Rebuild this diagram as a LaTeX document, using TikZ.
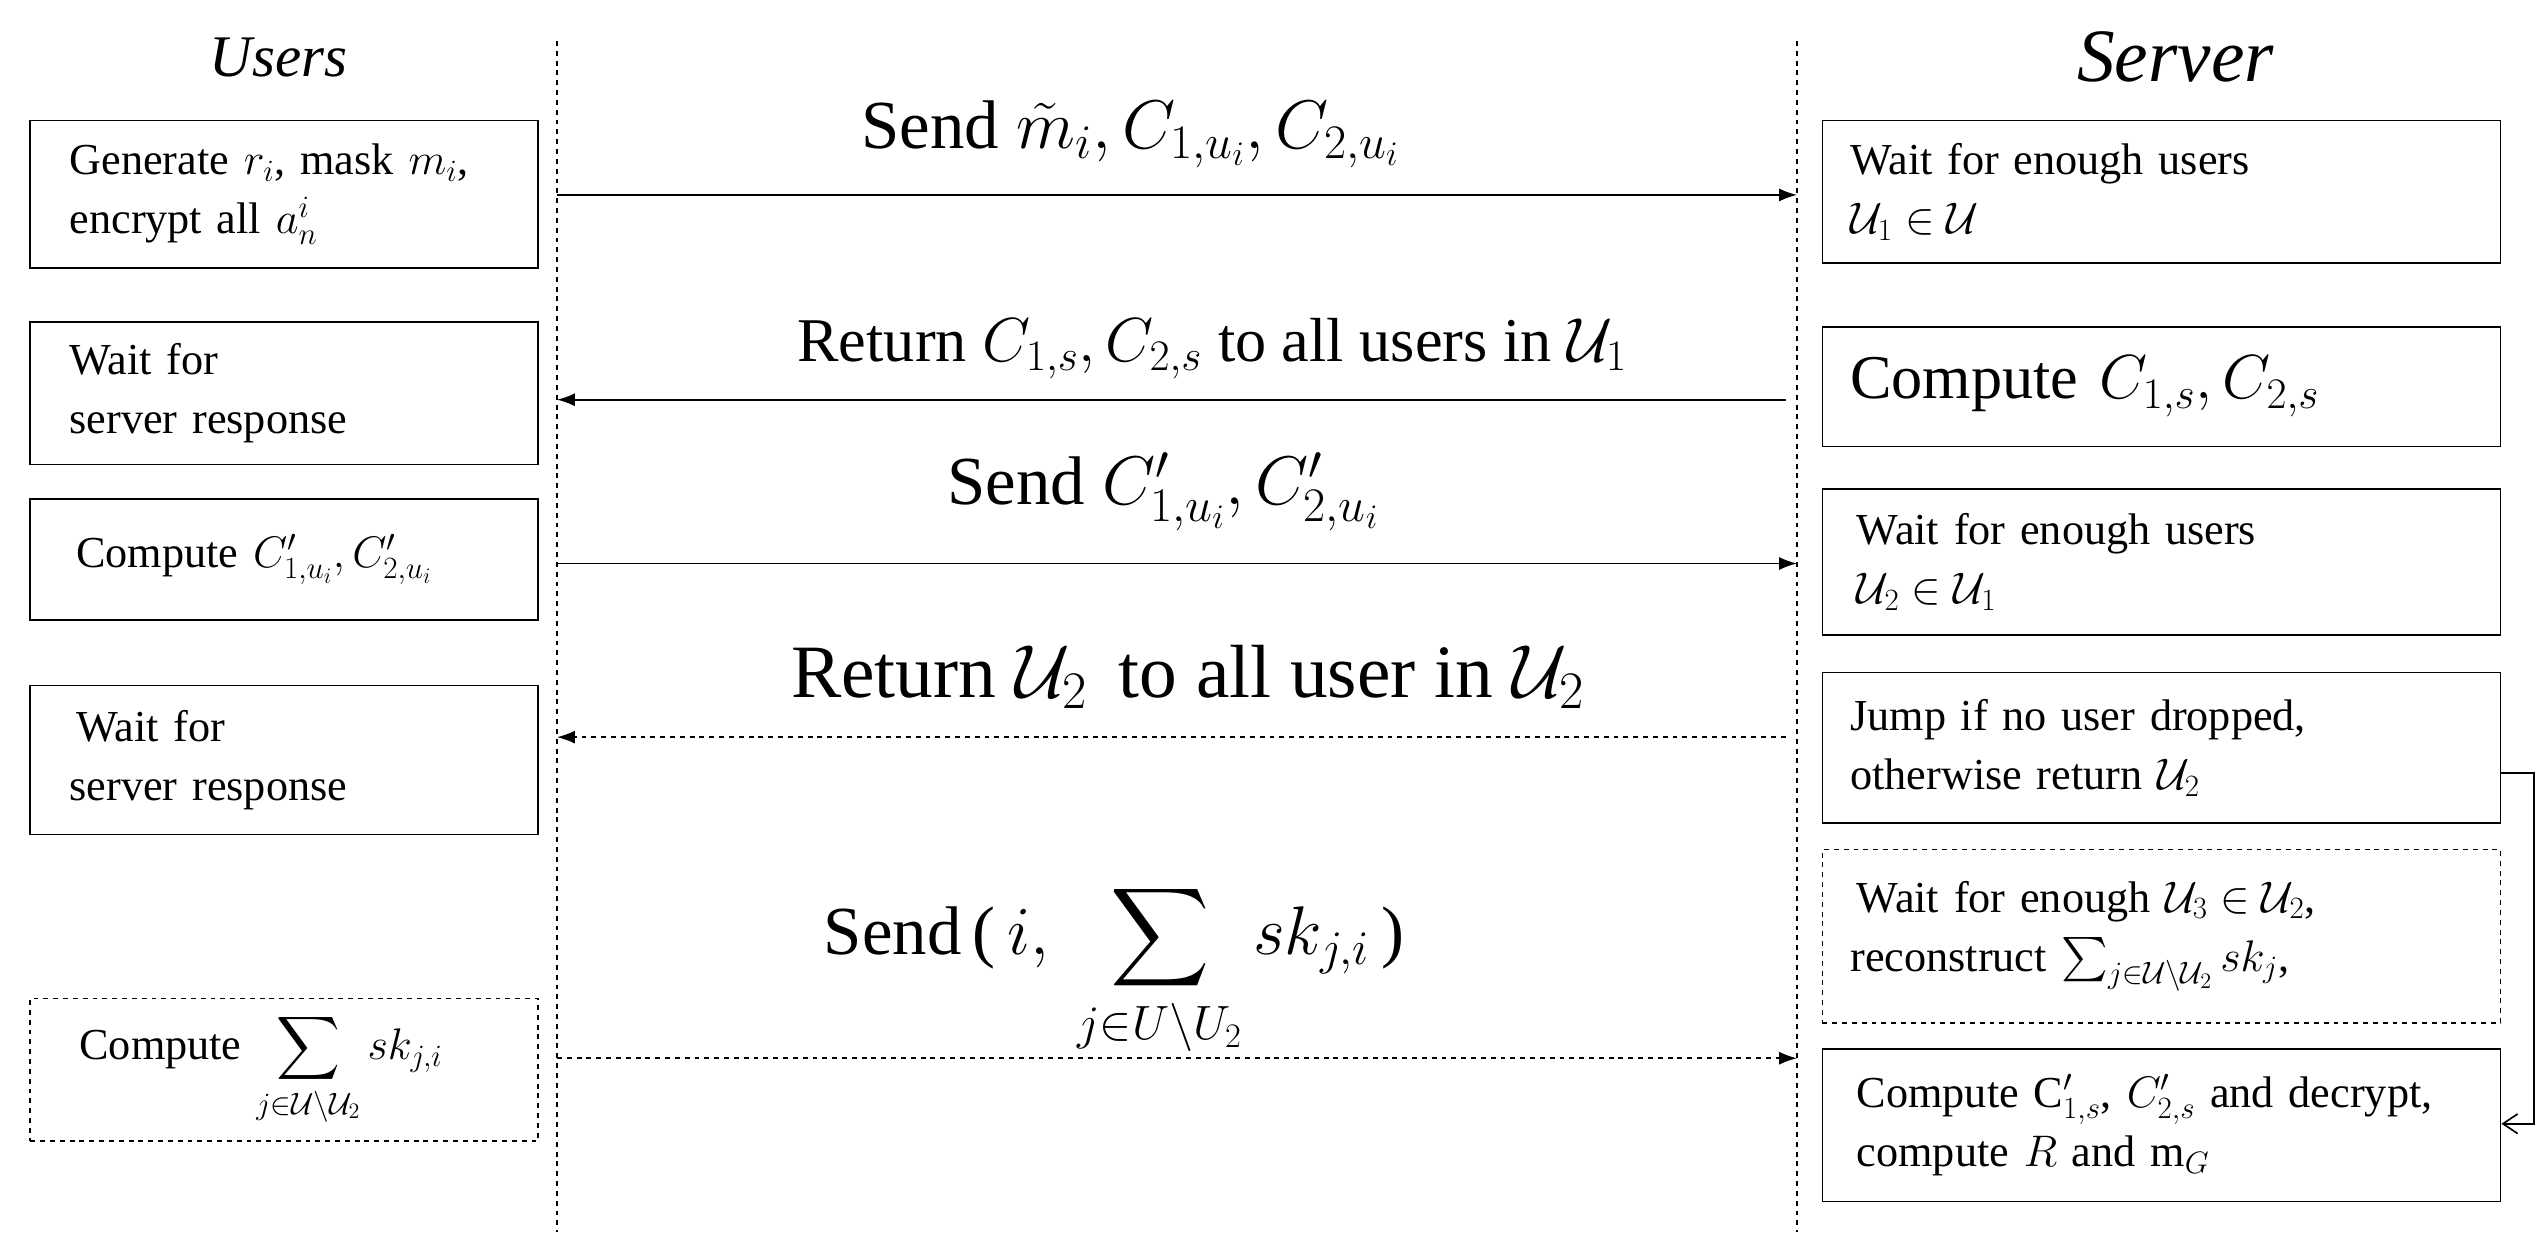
\RequirePackage{fix-cm}
\documentclass[tikz,border=0pt]{standalone}
\usepackage{amsmath,amssymb}
\usepackage{fontspec}
\setmainfont{Liberation Serif}
\usetikzlibrary{arrows.meta}
\begin{document}
\begin{tikzpicture}[x=1pt,y=-1pt,
 box/.style={draw,line width=1pt,minimum width=310pt,anchor=north west,align=left,inner sep=0pt,font=\fontsize{27}{36}\selectfont},
 rbox/.style={box,minimum width=414pt},
 life/.style={dashed,line width=0.8pt},
 msg/.style={line width=1pt,-{Latex[length=11pt,width=8pt]}},
 lbl/.style={font=\fontsize{42}{48}\selectfont}]
\useasboundingbox (0,0) rectangle (1553,765);
\coordinate (l0) at (340,25); \coordinate (l1) at (340,752);
\coordinate (r0) at (1097,25); \coordinate (r1) at (1097,752);
\draw[life] (l0) -- (l1); \draw[life] (r0) -- (r1);
\node[font=\fontsize{36}{40}\selectfont\itshape] (users) at (170,35) {Users};
\node[font=\fontsize{46}{50}\selectfont\itshape] (server) at (1328,35) {Server};
% left boxes
\node[box,minimum height=90pt,text width=290pt] (b1) at (18,73) {\hspace*{14pt}Generate $r_i$, mask $m_i$,\\\hspace*{14pt}encrypt all $a_n^i$};
\node[box,minimum height=87pt,text width=290pt] (b2) at (18,196) {\hspace*{14pt}Wait for\\\hspace*{14pt}server response};
\node[box,minimum height=74pt,text width=290pt] (b3) at (18,304) {\hspace*{18pt}Compute $C'_{1,u_i}, C'_{2,u_i}$};
\node[box,minimum height=91pt,text width=290pt] (b4) at (18,418) {\hspace*{18pt}Wait for\\\hspace*{14pt}server response};
\node[box,dashed,minimum height=87pt,text width=290pt] (b5) at (18,609) {\hspace*{20pt}Compute $\displaystyle\sum_{j\in\mathcal{U}\setminus\mathcal{U}_2} sk_{j,i}$};
% right boxes
\node[rbox,minimum height=87pt,text width=400pt] (s1) at (1112,73) {\hspace*{10pt}Wait for enough users\\\hspace*{10pt}$\mathcal{U}_1\in\mathcal{U}$};
\node[rbox,minimum height=73pt,text width=400pt,font=\fontsize{38}{44}\selectfont] (s2) at (1112,199) {\hspace*{10pt}Compute $C_{1,s}, C_{2,s}$};
\node[rbox,minimum height=89pt,text width=400pt] (s3) at (1112,298) {\hspace*{14pt}Wait for enough users\\\hspace*{14pt}$\mathcal{U}_2\in\mathcal{U}_1$};
\node[rbox,minimum height=92pt,text width=400pt] (s4) at (1112,410) {\hspace*{10pt}Jump if no user dropped,\\\hspace*{10pt}otherwise return $\mathcal{U}_2$};
\node[rbox,dashed,minimum height=106pt,text width=400pt] (s5) at (1112,518) {\hspace*{14pt}Wait for enough $\mathcal{U}_3\in\mathcal{U}_2$,\\\hspace*{10pt}reconstruct $\sum_{j\in\mathcal{U}\setminus\mathcal{U}_2} sk_j$,};
\node[rbox,minimum height=93pt,text width=400pt] (s6) at (1112,640) {\hspace*{14pt}Compute C$'_{1,s}$, $C'_{2,s}$ and decrypt,\\\hspace*{14pt}compute $R$ and m$_G$};
% messages
\coordinate (a1s) at (340,119); \coordinate (a1e) at (1097,119);
\draw[msg] (a1s) -- (a1e);
\node[lbl] (t1) at (690,82) {Send $\tilde m_i, C_{1,u_i}, C_{2,u_i}$};
\coordinate (a2s) at (1090,244); \coordinate (a2e) at (340,244);
\draw[msg] (a2s) -- (a2e);
\node[lbl,font=\fontsize{38}{44}\selectfont] (t2) at (740,213) {Return $C_{1,s}, C_{2,s}$ to all users in $\mathcal{U}_1$};
\coordinate (a3s) at (340,344); \coordinate (a3e) at (1097,344);
\draw[msg] (a3s) -- (a3e);
\node[lbl] (t3) at (710,300) {Send $C'_{1,u_i}, C'_{2,u_i}$};
\coordinate (a4s) at (1090,450); \coordinate (a4e) at (340,450);
\draw[msg,dashed] (a4s) -- (a4e);
\node[lbl,font=\fontsize{46}{50}\selectfont] (t4) at (725,413) {Return $\mathcal{U}_2$\, to all user in $\mathcal{U}_2$};
\coordinate (a5s) at (340,646); \coordinate (a5e) at (1097,646);
\draw[msg,dashed] (a5s) -- (a5e);
\node[lbl,anchor=north] (t5) at (680,535) {Send\,(\,$\displaystyle i,\ \sum_{j\in U\setminus U_2} sk_{j,i}$\,)};
% feedback
\coordinate (fb1) at (1547,472); \coordinate (fb2) at (1547,686);
\draw[line width=1pt,-{Straight Barb[length=9pt,width=12pt]}] (s4.east |- fb1) -- (fb1) -- (fb2) -- (s6.east |- fb2);
\end{tikzpicture}
\end{document}
